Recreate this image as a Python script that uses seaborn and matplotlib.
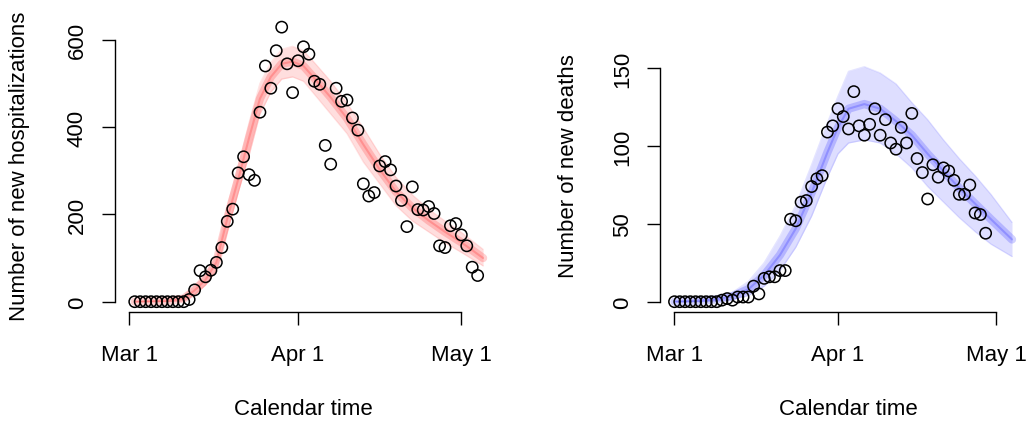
import pandas as pd
import matplotlib
matplotlib.use("Agg")
import matplotlib.pyplot as plt
import matplotlib.dates as mdates
import seaborn as sns

sns.set_theme(style="white")
plt.rcParams["font.family"] = ["Liberation Sans", "DejaVu Sans"]

# ---- observed daily counts -------------------------------------------------
hosp_start = "2020-03-02"
hosp_counts = [0, 0, 0, 0, 0, 0, 0, 0, 0, 0,
               5, 27, 71, 57, 72, 90, 124, 184, 212, 295,
               332, 291, 278, 434, 540, 489, 575, 629, 545, 479,
               552, 584, 567, 505, 498, 358, 315, 489, 459, 462,
               421, 393, 270, 242, 250, 311, 321, 302, 265, 232,
               172, 263, 211, 210, 218, 202, 128, 124, 174, 179,
               153, 128, 79, 60]

death_start = "2020-03-01"
death_counts = [0, 0, 0, 0, 0, 0, 0, 0, 0, 1,
                2, 1, 3, 3, 3, 10, 5, 15, 16, 16,
                20, 20, 53, 52, 64, 65, 74, 79, 81, 109,
                113, 124, 119, 111, 135, 113, 107, 114, 124, 107,
                117, 102, 98, 112, 102, 121, 92, 83, 66, 88,
                80, 86, 84, 78, 69, 69, 75, 57, 56, 44]

# ---- envelope of simulated trajectories (day = days after Mar 1) -----------
hosp_band_day = [1, 4, 7, 10, 12, 14, 16, 18, 20, 22, 24, 26, 28, 30, 32,
                 34, 37, 40, 43, 46, 49, 52, 55, 58, 61, 65]
hosp_band_lo = [0, 0, 0, 2, 16, 38, 72, 160, 250, 335, 430, 480, 510, 515,
                505, 475, 430, 385, 320, 270, 220, 185, 160, 135, 113, 82]
hosp_band_mid = [0, 1, 2, 7, 26, 50, 90, 190, 280, 375, 465, 515, 545, 550,
                 540, 512, 468, 420, 360, 303, 252, 215, 186, 160, 136, 100]
hosp_band_hi = [1, 3, 6, 14, 38, 64, 108, 220, 310, 410, 500, 548, 578, 585,
                575, 548, 505, 455, 398, 338, 285, 245, 212, 185, 159, 120]

death_band_day = [0, 4, 8, 11, 14, 17, 20, 23, 26, 29, 31, 33, 36, 39, 42,
                  45, 48, 51, 54, 57, 60, 64]
death_band_lo = [0, 0, 0.5, 1.5, 4, 10, 20, 35, 55, 80, 95, 102, 104, 102,
                 95, 86, 74, 64, 54, 45, 37, 29]
death_band_mid = [0, 0.5, 1.5, 3.5, 8, 17, 30, 47, 70, 96, 112, 124, 127,
                  124, 116, 107, 95, 84, 73, 63, 53, 40]
death_band_hi = [0.5, 1.5, 3, 6, 13, 25, 42, 62, 88, 115, 132, 148, 151, 147,
                 140, 128, 117, 104, 92, 81, 69, 51]

tick_dates = ["2020-03-01", "2020-04-01", "2020-05-01"]
tick_labels = ["Mar 1", "Apr 1", "May 1"]

origin = pd.Timestamp("2020-03-01")
W, H = 1026, 427
FS = 16


def day_dates(days):
    return [origin + pd.Timedelta(days=d) for d in days]


def setup_axes(ax, px_left, px_right, px_top, px_bot,
               day_left, day_right, ylim, yticks, ylabel, ylab_x, xlab_x):
    fig = ax.figure
    ax.set_position([px_left / W, 1 - px_bot / H,
                     (px_right - px_left) / W, (px_bot - px_top) / H])
    ax.set_xlim(mdates.date2num(origin + pd.Timedelta(days=day_left)),
                mdates.date2num(origin + pd.Timedelta(days=day_right)))
    ax.set_ylim(*ylim)
    for side in ("top", "right"):
        ax.spines[side].set_visible(False)
    for side in ("left", "bottom"):
        ax.spines[side].set_color("black")
        ax.spines[side].set_linewidth(1.0)
    ax.spines["left"].set_bounds(yticks[0], yticks[-1])
    tdates = pd.to_datetime(tick_dates)
    ax.spines["bottom"].set_bounds(mdates.date2num(tdates[0]),
                                   mdates.date2num(tdates[-1]))
    ax.set_xticks(mdates.date2num(tdates))
    ax.set_xticklabels(tick_labels)
    ax.set_yticks(yticks)
    ax.set_yticklabels([str(v) for v in yticks], rotation=90, va="center")
    ax.tick_params(axis="both", direction="out", length=9.6, width=1.0,
                   color="black", labelsize=FS, labelcolor="black",
                   left=True, bottom=True)
    ax.tick_params(axis="y", pad=10)
    ax.tick_params(axis="x", pad=13.5)
    ax.grid(False)
    ax.set_facecolor("white")
    ax.set_xlabel("Calendar time", fontsize=FS, color="black", va="center")
    ax.xaxis.set_label_coords(xlab_x / W, 1 - 410 / H,
                              transform=fig.transFigure)
    ax.set_ylabel(ylabel, fontsize=FS, color="black", va="center")
    ax.yaxis.set_label_coords(ylab_x / W, 1 - 166 / H,
                              transform=fig.transFigure)


def draw_panel(ax, start, counts, bday, lo, mid, hi, rgb):
    bdates = day_dates(bday)
    ax.fill_between(bdates, lo, hi, color=rgb, alpha=0.13, lw=0, zorder=1)
    sns.lineplot(x=bdates, y=lo, ax=ax, color=rgb, alpha=0.10, lw=1.0, zorder=2)
    sns.lineplot(x=bdates, y=hi, ax=ax, color=rgb, alpha=0.10, lw=1.0, zorder=2)
    sns.lineplot(x=bdates, y=mid, ax=ax, color=rgb, alpha=0.18, lw=6.0, zorder=2)
    sns.lineplot(x=bdates, y=mid, ax=ax, color=rgb, alpha=0.20, lw=1.5, zorder=2)
    dates = pd.date_range(start, periods=len(counts), freq="D")
    df = pd.DataFrame({"date": dates, "count": counts})
    sns.scatterplot(data=df, x="date", y="count", ax=ax, marker="o", s=66,
                    facecolors="none", edgecolor="black", linewidth=1.1,
                    zorder=3)


fig = plt.figure(figsize=(W / 100, H / 100), dpi=100)
fig.patch.set_facecolor("white")

ax1 = fig.add_axes([0, 0, 1, 1])
draw_panel(ax1, hosp_start, hosp_counts, hosp_band_day, hosp_band_lo,
           hosp_band_mid, hosp_band_hi, (1.0, 0.0, 0.0))
setup_axes(ax1, 115, 501.6, 17, 313.3, -2.627, 68.40, (-24.3, 654.5),
           [0, 200, 400, 600], "Number of new hospitalizations", 20, 303)

ax2 = fig.add_axes([0.5, 0, 0.5, 1])
draw_panel(ax2, death_start, death_counts, death_band_day, death_band_lo,
           death_band_mid, death_band_hi, (0.0, 0.0, 1.0))
setup_axes(ax2, 660, 1030, 17, 313.3, -2.749, 67.41, (-6.81, 183.6),
           [0, 50, 100, 150], "Number of new deaths", 568, 848)

fig.savefig("out.png", dpi=100, facecolor="white")
